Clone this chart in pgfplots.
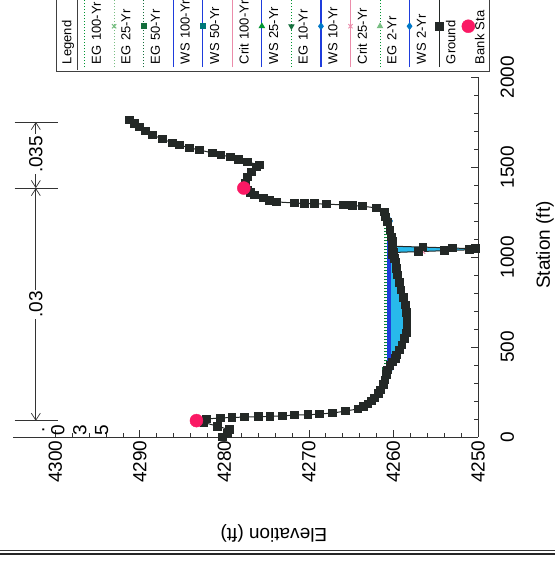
\documentclass[border=0pt]{standalone}
\usepackage{fontspec}
\setmainfont{Liberation Sans}
\usepackage{pgfplots}
\pgfplotsset{compat=1.18}
\usetikzlibrary{arrows.meta}
\definecolor{egc}{RGB}{0,150,50}
\definecolor{egl}{RGB}{120,190,130}
\definecolor{egd}{RGB}{20,110,60}
\definecolor{wsc}{RGB}{30,60,220}
\definecolor{wsm}{RGB}{0,120,200}
\definecolor{teal2}{RGB}{0,120,120}
\definecolor{critc}{RGB}{235,140,170}
\definecolor{gnd}{RGB}{35,40,38}
\definecolor{bank}{RGB}{250,25,100}
\definecolor{water}{RGB}{40,185,235}
\begin{document}
\begin{tikzpicture}[x=1pt,y=1pt]
\path[use as bounding box] (0,0) rectangle (555,572);
\clip (0,0) rectangle (555,572);
\begin{axis}[
  at={(13pt,135pt)}, anchor=south west,
  scale only axis, width=465pt, height=360pt,
  xmin=4250, xmax=4305, ymin=0, ymax=2000,
  x dir=reverse,
  axis x line*=bottom, axis y line*=right,
  axis line style={-, line width=0.8pt, black!80},
  clip=false,
  xtick={4250,4260,4270,4280,4290,4300}, minor x tick num=4,
  ytick={0,500,1000,1500,2000}, minor y tick num=4,
  tick align=inside, major tick length=7pt, minor tick length=4pt,
  tick style={black!80, line width=0.7pt},
  scaled ticks=false,
  /pgf/number format/1000 sep={},
  /pgf/number format/assume math mode=true,
  tick label style={font=\fontsize{19}{22}\selectfont},
  xticklabel style={rotate=90, anchor=east},
  yticklabel style={rotate=90, anchor=north},
  yticklabel shift=19pt,
  legend columns=-1,
  legend image code/.code={
    \path (-5pt,0pt) (1pt,0pt);
    \draw[mark repeat=2, mark phase=2, #1, overlay] plot coordinates {(0pt,-3pt) (0pt,38pt) (0pt,130pt)};
  },
  legend style={
    anchor=south west, at={(axis description cs:0.0925,1.0167)},
    draw=black!75, fill=white,
    inner xsep=0pt, inner ysep=6pt, column sep=3pt,
    font=\fontsize{13}{14}\selectfont,
    nodes={rotate=90, anchor=base west, inner xsep=0pt, inner ysep=2pt, text height=9.8pt, text depth=2.7pt, text width=85pt, align=left},
    cells={anchor=base west},
  },
]
\addlegendimage{legend image code/.code={\path (0pt,0pt); \draw[overlay, line width=0.8pt, black!75] (21pt,-6pt) -- (21pt,130pt);}}
\addlegendentry{Legend}

% water fill
\addplot[fill=water, draw=none, forget plot] coordinates {
(4260.65,375) (4260.65,1200) (4260.7,1194) (4260.2,1111) (4260.1,1060) (4256.5,1055) (4253,1050) (4250.3,1045) (4251,1040) (4254,1035) (4257,1030) (4260.0,1025) (4260.1,1011) (4259.7,972) (4259.5,900) (4259.1,817) (4258.6,733) (4258.4,650) (4258.5,578) (4259.0,511) (4259.6,456) (4260.1,417) (4260.65,375)
} --cycle;

\addplot[egc, dotted, line width=1pt] coordinates {(4261.05,372) (4261.05,1230)};
\addlegendentry{EG 100-Yr}
\addplot[egl, dotted, line width=1pt, mark=x, mark size=3pt, mark options={solid}] coordinates {(4260.95,372) (4260.95,1230)};
\addlegendentry{EG 25-Yr}
\addplot[egd, dotted, line width=1pt, mark=square*, mark size=2.5pt, mark options={solid}] coordinates {(4261.0,372) (4261.0,1230)};
\addlegendentry{EG 50-Yr}
\addplot[wsc, line width=1.1pt] coordinates {(4260.65,375) (4260.65,1200)};
\addlegendentry{WS 100-Yr}
\addplot[wsc, line width=1.1pt, mark=square*, mark size=2.5pt, mark options={teal2}] coordinates {(4260.6,375) (4260.6,1200)};
\addlegendentry{WS 50-Yr}
\addplot[critc, line width=1pt] coordinates {(4257.3,1028) (4257.3,1053)};
\addlegendentry{Crit 100-Yr}
\addplot[wsc, line width=1.1pt, mark=triangle*, mark size=2.8pt, mark options={egc}] coordinates {(4260.55,375) (4260.55,1200)};
\addlegendentry{WS 25-Yr}
\addplot[egc, dotted, line width=1pt, mark=triangle*, mark size=2.8pt, mark options={solid, egd, rotate=180}] coordinates {(4260.9,372) (4260.9,1230)};
\addlegendentry{EG 10-Yr}
\addplot[wsc, line width=1.1pt, mark=diamond*, mark size=3pt, mark options={wsm}] coordinates {(4260.5,375) (4260.5,1200)};
\addlegendentry{WS 10-Yr}
\addplot[critc, line width=1pt, mark=x, mark size=3pt] coordinates {(4256.5,1030) (4256.5,1051)};
\addlegendentry{Crit 25-Yr}
\addplot[egc, dotted, line width=1pt, mark=triangle*, mark size=2.8pt, mark options={solid, egl}] coordinates {(4260.8,372) (4260.8,1230)};
\addlegendentry{EG 2-Yr}
\addplot[wsc, line width=1.1pt, mark=diamond*, mark size=3pt, mark options={wsm}] coordinates {(4260.4,375) (4260.4,1200)};
\addlegendentry{WS 2-Yr}

\addplot[gnd, line width=1pt, mark=square*, mark size=3.9pt] coordinates {
(4280.2,0) (4279.6,20) (4279.4,40) (4280.8,60) (4282.4,80) (4283.3,91)
(4282.1,100) (4280.5,106) (4279.1,108) (4277.6,111) (4276.0,112) (4274.6,115) (4273.1,117) (4271.7,122) (4270.1,123) (4268.7,128) (4267.2,133) (4265.7,144) (4264.2,156)
(4263.5,168) (4263.0,183) (4262.6,200) (4262.2,217) (4261.8,240) (4261.5,261) (4261.2,290) (4261.0,317) (4260.8,345) (4260.7,372) (4260.4,395) (4260.1,417) (4259.8,436) (4259.6,456) (4259.3,483) (4259.0,511) (4258.7,545) (4258.5,578) (4258.4,614) (4258.4,650) (4258.5,690) (4258.6,733) (4258.8,775) (4259.1,817) (4259.3,858) (4259.5,900) (4259.6,936) (4259.7,972) (4259.9,992) (4260.1,1011)
(4260.0,1025) (4257,1030) (4254,1035) (4251,1040) (4250.3,1045) (4253,1050) (4256.5,1055) (4260.1,1060)
(4260.1,1085) (4260.2,1111) (4260.4,1150) (4260.7,1194) (4260.9,1222) (4261.1,1250) (4262.0,1272) (4263.7,1283) (4264.8,1286) (4265.9,1289) (4267.9,1294) (4269.3,1295) (4270.5,1297) (4271.7,1300) (4273.8,1306) (4274.7,1315) (4275.4,1328) (4276.4,1344) (4276.9,1358) (4277.2,1372) (4277.7,1383)
(4277.5,1410) (4277.3,1444) (4276.8,1472) (4276.2,1500) (4275.8,1511) (4277.3,1528) (4278.3,1542) (4279.3,1556) (4280.4,1567) (4281.4,1578) (4282.9,1594) (4284.1,1606) (4285.3,1622) (4286.1,1633) (4287.3,1655) (4288.5,1678) (4289.3,1700) (4290.0,1722) (4290.6,1742) (4291.2,1761)
};
\addlegendentry{Ground}
\addplot[only marks, mark=*, mark size=6.5pt, bank] coordinates {(4283.3,91) (4277.7,1383)};
\addlegendentry{Bank Sta}

% n-value annotation
\draw[line width=0.7pt, black!80] (axis cs:4304.8,90) -- (axis cs:4299.7,90);
\draw[line width=0.7pt, black!80] (axis cs:4304.8,1383) -- (axis cs:4299.7,1383);
\draw[line width=0.7pt, black!80] (axis cs:4304.8,1750) -- (axis cs:4299.7,1750);
\draw[line width=0.7pt, black!80, {Straight Barb[length=7pt,width=9pt]}-{Straight Barb[length=7pt,width=9pt]}] (axis cs:4302.3,90) -- (axis cs:4302.3,1383);
\draw[line width=0.7pt, black!80, {Straight Barb[length=7pt,width=9pt]}-{Straight Barb[length=7pt,width=9pt]}] (axis cs:4302.3,1383) -- (axis cs:4302.3,1750);
\node[rotate=90, fill=white, inner sep=1.5pt, font=\fontsize{19}{22}\selectfont] at (axis cs:4302.3,736) {.03};
\node[rotate=90, fill=white, inner sep=1.5pt, font=\fontsize{19}{22}\selectfont] at (axis cs:4302.3,1570) {.035};
\node[rotate=90, font=\fontsize{19}{22}\selectfont] at (axis cs:4301.4,39) {.};
\node[rotate=90, font=\fontsize{19}{22}\selectfont] at (axis cs:4299.7,39) {0};
\node[rotate=90, font=\fontsize{19}{22}\selectfont] at (axis cs:4297.1,39) {3};
\node[rotate=90, font=\fontsize{19}{22}\selectfont] at (axis cs:4294.5,39) {5};

\node[rotate=90, font=\fontsize{19}{22}\selectfont] at (axis description cs:1.144,0.533) {Station (ft)};
\node[rotate=180, font=\fontsize{19}{22}\selectfont] at (axis description cs:0.561,-0.267) {Elevation (ft)};
\end{axis}
\draw[line width=0.8pt, black!80] (0,22) -- (555,22);
\draw[line width=2.5pt, black!85] (0,18) -- (555,18);
\end{tikzpicture}
\end{document}
